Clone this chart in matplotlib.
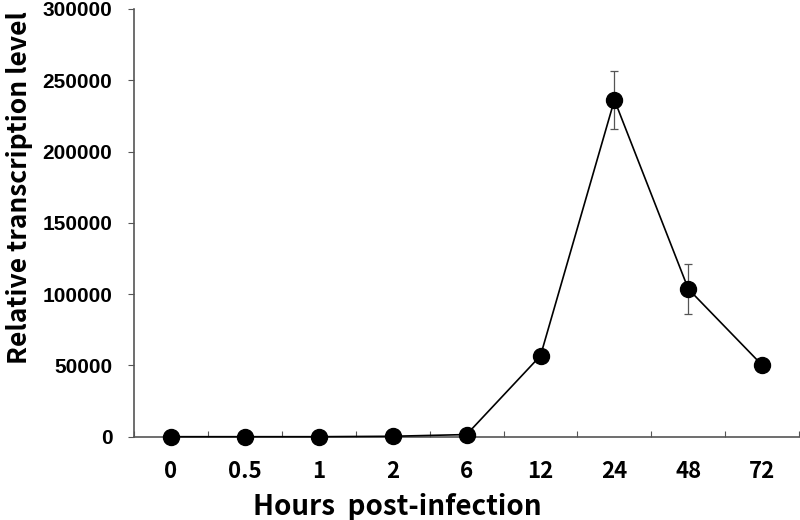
import matplotlib
matplotlib.use("Agg")
import matplotlib.pyplot as plt
import numpy as np

# data
hours = ["0", "0.5", "1", "2", "6", "12", "24", "48", "72"]
level = [0, 0, 0, 300, 1500, 56800, 236200, 103600, 50100]
err = [0, 0, 0, 0, 0, 0, 20500, 17700, 0]
yticks = [0, 50000, 100000, 150000, 200000, 250000, 300000]

fig = plt.figure(figsize=(8, 5.2), dpi=100)
ax = fig.add_axes([0.1675, 0.1602, 0.8315, 0.8225])

x = np.arange(len(hours))
ax.errorbar(x, level, yerr=[e if e else np.nan for e in err], fmt="none",
            ecolor="#555555", elinewidth=0.9, capsize=3, capthick=0.9, zorder=2)
ax.plot(x, level, color="black", lw=1.2, marker="o", ms=11.5,
        mfc="black", mec="black", clip_on=False, zorder=3)

ax.set_xlim(-0.5, len(hours) - 0.5)
ax.set_ylim(0, 300000)

# category boundaries carry the tick marks, labels sit at centers
ax.set_xticks(np.arange(len(hours) + 1) - 0.5)
ax.set_xticklabels([])
ax.tick_params(axis="x", which="major", direction="in", length=4.5, color="#555555")
ax.set_xticks(x, minor=True)
ax.set_xticklabels(hours, minor=True, fontsize=16, fontweight="bold",
                   family=["Noto Sans CJK KR", "DejaVu Sans"])
ax.tick_params(axis="x", which="minor", length=0, pad=17)

ax.set_yticks(yticks)
ax.set_yticklabels([str(v) for v in yticks], fontsize=15, fontweight="bold",
                   family="Liberation Sans")
ax.tick_params(axis="y", direction="out", length=4.5, color="#555555", pad=11)

for s in ["top", "right"]:
    ax.spines[s].set_visible(False)
for s in ["left", "bottom"]:
    ax.spines[s].set_color("#555555")
    ax.spines[s].set_linewidth(1.2)

fig.text(397 / 800, 1 - 515 / 520, "Hours  post-infection", ha="center", va="baseline",
         fontsize=20, fontweight="bold", family=["Noto Sans CJK KR", "DejaVu Sans"])
fig.text(20 / 800, 1 - 188 / 520, "Relative transcription level", ha="center", va="center",
         rotation=90, fontsize=19, fontweight="bold",
         family=["Noto Sans CJK KR", "DejaVu Sans"])

fig.savefig("out.png", dpi=100)
